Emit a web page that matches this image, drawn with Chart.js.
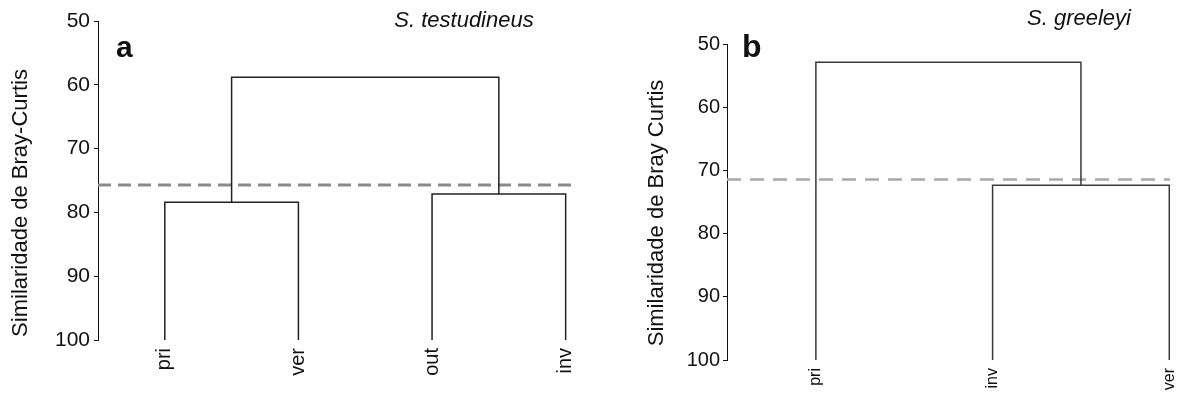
<!DOCTYPE html>
<html>
<head>
<meta charset="utf-8">
<script src="https://cdn.jsdelivr.net/npm/chart.js@4.4.1/dist/chart.umd.min.js"></script>
<style>
body { margin:0; background:#fff; }
#wrap { position:relative; width:1180px; height:394px; }
canvas { position:absolute; top:0; }
#chartA { left:0; }
#chartB { left:590px; }
</style>
</head>
<body>
<div id="wrap">
<canvas id="chartA" width="590" height="394"></canvas>
<canvas id="chartB" width="590" height="394"></canvas>
</div>
<script>
// =========================
// Data
// =========================
const yTicks = [50, 60, 70, 80, 90, 100];

// a - S. testudineus
const leavesA = ["pri", "ver", "out", "inv"];
const mergesA = [[0, 1], [2, 3], [4, 5]];
const heightsA = [78.4, 77.1, 58.8];
const cutA = 75.7;

// b - S. greeleyi
const leavesB = ["pri", "inv", "ver"];
const mergesB = [[1, 2], [0, 3]];
const heightsB = [72.35, 52.9];
const cutB = 71.45;

Chart.defaults.font.family = '"Liberation Sans", Arial, sans-serif';
Chart.defaults.color = "#111";

// =========================
// Dendrogram segments
// =========================
function buildSegments(leaves, merges, heights, base){
    const pos = leaves.map((_, i) => ({ x: i, y: base }));
    const segs = [];
    merges.forEach((m, k) => {
        const l = pos[m[0]], r = pos[m[1]], h = heights[k];
        segs.push([
            { x: l.x, y: l.y }, { x: l.x, y: h },
            { x: r.x, y: h }, { x: r.x, y: r.y }
        ]);
        pos.push({ x: (l.x + r.x) / 2, y: h });
    });
    return segs;
}

// =========================
// Texts (panel letter, species, axis title)
// =========================
const panelText = {
    id: "panelText",
    afterDraw(chart, args, o){
        const ctx = chart.ctx;
        const fam = Chart.defaults.font.family;
        ctx.save();
        ctx.fillStyle = "#111";
        ctx.textBaseline = "alphabetic";

        ctx.font = "bold " + o.letterSize + "px " + fam;
        ctx.textAlign = "left";
        ctx.fillText(o.letter, o.letterX, o.letterY);

        ctx.font = "italic " + o.titleSize + "px " + fam;
        ctx.textAlign = "center";
        ctx.fillText(o.title, o.titleX, o.titleY);

        ctx.font = o.axisSize + "px " + fam;
        ctx.translate(o.axisX, o.axisY);
        ctx.rotate(-Math.PI / 2);
        ctx.textBaseline = "middle";
        ctx.fillText(o.axisTitle, 0, 0);
        ctx.restore();
    }
};

function makeDendro(id, p){

    const segs = buildSegments(p.leaves, p.merges, p.heights, 100);

    const datasets = segs.map(s => ({
        data: s,
        showLine: true,
        borderColor: p.lineColor,
        borderWidth: 1.5,
        pointRadius: 0,
        fill: false
    }));

    datasets.push({
        data: [{ x: p.xMin, y: p.cut }, { x: p.xMax, y: p.cut }],
        showLine: true,
        borderColor: p.cutColor,
        borderWidth: p.cutWidth,
        borderDash: p.cutDash,
        pointRadius: 0
    });

    return new Chart(document.getElementById(id), {
        type: "scatter",
        data: { datasets: datasets },
        plugins: [panelText],
        options: {
            responsive: false,
            animation: false,
            layout: { padding: { left: 0, top: p.top, right: p.right, bottom: 0 } },
            plugins: {
                legend: { display: false },
                tooltip: { enabled: false },
                panelText: p.text
            },
            scales: {
                x: {
                    type: "linear",
                    min: p.xMin,
                    max: p.xMax,
                    grid: { display: false, drawTicks: false },
                    border: { display: false },
                    afterBuildTicks: s => { s.ticks = p.leaves.map((_, i) => ({ value: i })); },
                    afterFit: s => { s.height = p.xHeight; s.paddingLeft = 0; s.paddingRight = 0; },
                    ticks: {
                        autoSkip: false,
                        minRotation: 90,
                        maxRotation: 90,
                        padding: 8,
                        font: { size: p.leafSize },
                        callback: v => p.leaves[v]
                    }
                },
                y: {
                    min: yTicks[0],
                    max: yTicks[yTicks.length - 1],
                    reverse: true,
                    afterBuildTicks: s => { s.ticks = yTicks.map(v => ({ value: v })); },
                    afterFit: s => { s.width = p.yWidth; s.paddingTop = 0; s.paddingBottom = 0; },
                    grid: {
                        drawOnChartArea: false,
                        drawTicks: true,
                        tickLength: 4,
                        color: "#111",
                        lineWidth: 1
                    },
                    border: { display: true, color: "#111", width: 1 },
                    ticks: {
                        padding: p.tickPad,
                        font: { size: p.tickSize }
                    }
                }
            }
        }
    });
}

makeDendro("chartA", {
    leaves: leavesA, merges: mergesA, heights: heightsA, cut: cutA,
    xMin: -0.5, xMax: 3.04,
    top: 21, right: 19, xHeight: 54, yWidth: 98,
    lineColor: "#222", cutColor: "#8a8a8a", cutWidth: 3, cutDash: [13, 7],
    leafSize: 20, tickSize: 21, tickPad: 4,
    text: {
        letter: "a", letterSize: 30, letterX: 116, letterY: 57,
        title: "S. testudineus", titleSize: 22, titleX: 464, titleY: 27,
        axisTitle: "Similaridade de Bray-Curtis", axisSize: 22, axisX: 21, axisY: 203
    }
});

makeDendro("chartB", {
    leaves: leavesB, merges: mergesB, heights: heightsB, cut: cutB,
    xMin: -0.503, xMax: 2.004,
    top: 44, right: 10, xHeight: 34, yWidth: 137,
    lineColor: "#3a3a3a", cutColor: "#a8a8a8", cutWidth: 2.5, cutDash: [14, 9],
    leafSize: 16, tickSize: 20, tickPad: 3,
    text: {
        letter: "b", letterSize: 32, letterX: 152, letterY: 57,
        title: "S. greeleyi", titleSize: 22, titleX: 489, titleY: 25,
        axisTitle: "Similaridade de Bray Curtis", axisSize: 22, axisX: 67, axisY: 213
    }
});
</script>
</body>
</html>
